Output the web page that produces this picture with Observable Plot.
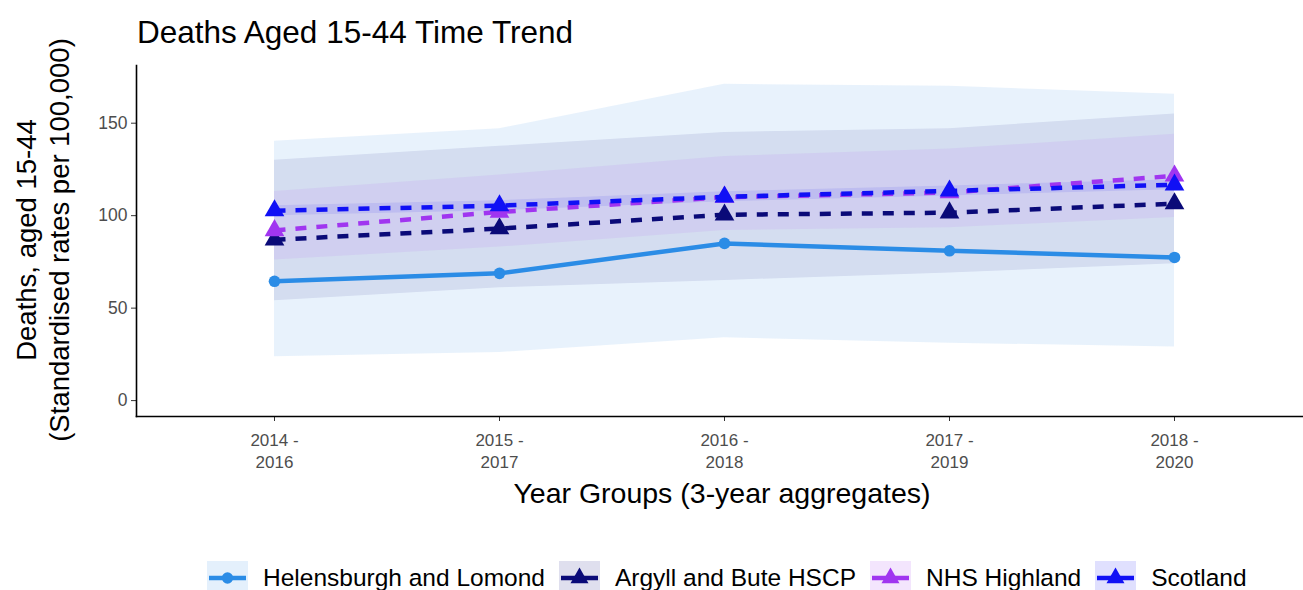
<!DOCTYPE html>
<html><head><meta charset="utf-8">
<script src="https://cdn.jsdelivr.net/npm/d3@7"></script>
<script src="https://cdn.jsdelivr.net/npm/@observablehq/plot@0.6"></script>
<style>
body{margin:0;background:#fff;font-family:"Liberation Sans",Arial,sans-serif;}
#wrap{position:relative;width:1303px;height:590px;overflow:hidden;}
#chart{position:absolute;left:0;top:0;}
#legend{position:absolute;left:207px;top:561px;height:34px;display:flex;align-items:center;font-size:24.5px;color:#000;white-space:nowrap;}
.item{display:flex;align-items:center;margin-right:14px;}
.item svg{margin-right:15px;}
</style>
</head><body>
<div id="wrap"><div id="chart"></div><div id="legend"></div></div>
<script>
const periods = ["2014 - 2016","2015 - 2017","2016 - 2018","2017 - 2019","2018 - 2020"];
const seriesNames = ["Helensburgh and Lomond","Argyll and Bute HSCP","NHS Highland","Scotland"];
const seriesColors = ["#2b8ce6","#0a0a78","#a035f0","#1010f5"];
const seriesSymbols = ["circle","triangle","triangle","triangle"];
const seriesDash = [null,"11,10","11,10","11,10"];
const bandOpacity = [0.11, 0.09, 0.08, 0.09];

const helensburgh      = [64.5, 68.8, 85.0, 81.0, 77.4];
const helensburghLower = [23.7, 26.0, 34.0, 31.0, 29.0];
const helensburghUpper = [140.3, 147.0, 171.0, 170.0, 165.6];
const argyll      = [87.0, 93.0, 100.5, 101.6, 106.5];
const argyllLower = [54.0, 61.0, 65.0, 69.0, 74.0];
const argyllUpper = [130.0, 137.5, 145.0, 147.0, 155.0];
const highland      = [92.0, 102.0, 110.0, 112.5, 121.5];
const highlandLower = [76.0, 83.0, 92.0, 93.5, 99.0];
const highlandUpper = [113.0, 122.0, 132.0, 136.0, 144.0];
const scotland      = [102.7, 105.4, 110.2, 113.4, 116.7];
const scotlandLower = [100.0, 102.7, 107.5, 110.7, 114.0];
const scotlandUpper = [105.4, 108.1, 112.9, 116.1, 119.4];

const yTicks = [0, 50, 100, 150];

const values = [helensburgh, argyll, highland, scotland];
const lowers = [helensburghLower, argyllLower, highlandLower, scotlandLower];
const uppers = [helensburghUpper, argyllUpper, highlandUpper, scotlandUpper];

const rows = [];
seriesNames.forEach((s, i) => periods.forEach((p, j) => rows.push({series: s, idx: i, period: p, value: values[i][j], lo: lowers[i][j], hi: uppers[i][j]})));
const bySeries = i => rows.filter(d => d.idx === i);

const W = 1303, H = 530;
const marks = [];
seriesNames.forEach((s, i) => {
  marks.push(Plot.areaY(bySeries(i), {x: "period", y1: "lo", y2: "hi", fill: seriesColors[i], fillOpacity: bandOpacity[i]}));
});
seriesNames.forEach((s, i) => {
  marks.push(Plot.lineY(bySeries(i), {x: "period", y: "value", stroke: seriesColors[i], strokeWidth: 4.5, strokeDasharray: seriesDash[i], strokeLinecap: "butt"}));
  marks.push(Plot.dot(bySeries(i), {x: "period", y: "value", fill: seriesColors[i], stroke: "none", symbol: seriesSymbols[i], r: seriesSymbols[i] === "circle" ? 5.8 : 7.3}));
});
marks.push(Plot.axisY({ticks: yTicks, tickSize: 5, tickPadding: 4, fontSize: 17.5, color: "#4d4d4d", stroke: "#333", label: null}));
marks.push(Plot.axisX({tickSize: 5, tickPadding: 9, fontSize: 17, color: "#4d4d4d", stroke: "#333", label: null, lineHeight: 1.3,
  tickFormat: d => d.replace(" - ", " -\n")}));
marks.push(Plot.frame({anchor: "left", stroke: "#000", strokeWidth: 1.6}));
marks.push(Plot.frame({anchor: "bottom", stroke: "#000", strokeWidth: 1.6}));

const chart = Plot.plot({
  width: W, height: H,
  marginLeft: 136, marginRight: 0, marginTop: 65, marginBottom: H - 416,
  style: {fontFamily: "'Liberation Sans', Arial, sans-serif", background: "#fff", overflow: "visible"},
  x: {type: "point", domain: periods, range: [273, 1174], padding: 0},
  y: {domain: [-8.6, 181.2]},
  marks
});
document.getElementById("chart").appendChild(chart);

const svg = d3.select(chart);
svg.append("text").attr("x", 137).attr("y", 43).attr("text-anchor", "start").attr("font-size", 31.5).attr("fill", "#000").text("Deaths Aged 15-44 Time Trend");
svg.append("text").attr("transform", "translate(36,240) rotate(-90)").attr("text-anchor", "middle").attr("font-size", 27.5).attr("fill", "#000").text("Deaths, aged 15-44");
svg.append("text").attr("transform", "translate(69,240) rotate(-90)").attr("text-anchor", "middle").attr("font-size", 27.5).attr("fill", "#000").text("(Standardised rates per 100,000)");
svg.append("text").attr("x", 722).attr("y", 503).attr("text-anchor", "middle").attr("font-size", 28.5).attr("fill", "#000").text("Year Groups (3-year aggregates)");

const legend = d3.select("#legend");
seriesNames.forEach((s, i) => {
  const it = legend.append("div").attr("class", "item");
  const k = it.append("svg").attr("width", 41).attr("height", 34);
  k.append("rect").attr("width", 41).attr("height", 34).attr("fill", seriesColors[i]).attr("fill-opacity", 0.13);
  k.append("line").attr("x1", 2).attr("x2", 39).attr("y1", 17).attr("y2", 17).attr("stroke", seriesColors[i]).attr("stroke-width", 4.5);
  const sym = seriesSymbols[i] === "circle" ? d3.symbolCircle : d3.symbolTriangle;
  k.append("path").attr("d", d3.symbol(sym, seriesSymbols[i] === "circle" ? 100 : 140)()).attr("transform", "translate(20.5,17)").attr("fill", seriesColors[i]);
  it.append("span").text(s);
});
</script>
</body></html>
